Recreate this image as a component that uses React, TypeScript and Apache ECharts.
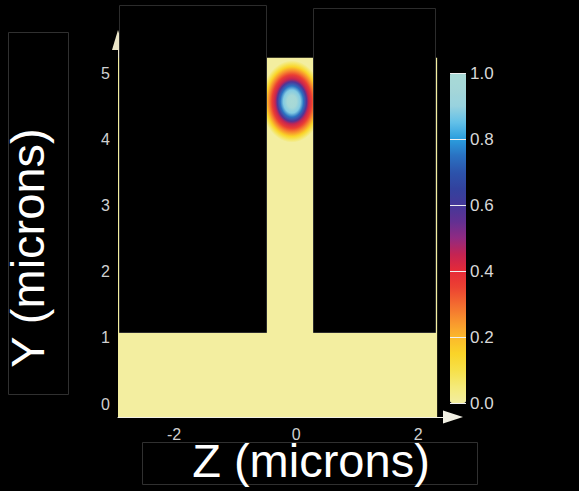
import React, { useEffect, useRef } from "react";
import * as echarts from "echarts";

// Axis extents (microns)
const zRange = [-2.92, 2.57];
const yRange = [-0.196, 5.5];

// Simulation domain filled with the field value outside the mode: [z0, z1, y0, y1, field]
const domainRects = [[-2.92, 2.31, -0.196, 5.23, 0]];

// Opaque cladding masks above the slab: [z0, z1, y0, y1]
const maskRects = [
  [-2.905, -0.5, 1.09, 6.03],
  [0.28, 2.28, 1.09, 5.98],
];

// Guided mode spot: centre (z, y) and outer radii (z, y), microns
const modeCenter = [-0.07, 4.57];
const modeRadii = [0.5, 0.62];

// Normalised field magnitude along the mode radius
const profileRadius = [0, 0.15, 0.28, 0.38, 0.48, 0.55, 0.65, 0.75, 0.85, 0.93, 1];
const profileValue = [1, 0.97, 0.88, 0.75, 0.58, 0.45, 0.36, 0.26, 0.15, 0.07, 0];

// Colour bar ticks
const barTicks = [0, 0.2, 0.4, 0.6, 0.8, 1.0];

// Colour map, evenly spaced from 0.0 to 1.0
const colorMap = [
  "#f3eea0", "#f4ea78", "#f6e048", "#fad428", "#fbb82c",
  "#f8922e", "#f36a30", "#ec4232", "#e62a38", "#c42452",
  "#902a82", "#623092", "#443898", "#32429e", "#2c54ac",
  "#2a72c2", "#2a9ede", "#62c0e8", "#98d2de", "#a4d6d8",
  "#a9dad6",
];

const FONT = "'Liberation Sans', Arial, Helvetica, sans-serif";

export default function App() {
  const ref = useRef<HTMLDivElement>(null);

  useEffect(() => {
    document.body.style.margin = "0";
    document.body.style.background = "#000";
    if (!ref.current) return;
    const chart = echarts.init(ref.current, undefined, { renderer: "svg" });

    const gradientStops = profileRadius.map((r, i) => ({
      offset: r,
      color: echarts.color.lerp(profileValue[i], colorMap) as string,
    }));

    chart.setOption({
      animation: false,
      backgroundColor: "#000",
      grid: [
        { left: 118, top: 40, width: 335, height: 377 },
        { left: 450, top: 73, width: 16, height: 330 },
      ],
      xAxis: [
        {
          type: "value",
          gridIndex: 0,
          min: zRange[0],
          max: zRange[1],
          minInterval: 2,
          maxInterval: 2,
          axisLine: {
            show: true,
            onZero: false,
            symbol: ["none", "triangle"],
            symbolSize: [13, 20],
            lineStyle: { color: "#f2f0e4", width: 1 },
          },
          axisTick: { show: false },
          splitLine: { show: false },
          axisLabel: {
            color: "#d0d0d0",
            fontSize: 16,
            lineHeight: 14,
            fontFamily: FONT,
            margin: 10,
            showMinLabel: false,
            showMaxLabel: false,
          },
        },
        { type: "value", gridIndex: 1, min: 0, max: 1, show: false },
      ],
      yAxis: [
        {
          type: "value",
          gridIndex: 0,
          min: yRange[0],
          max: yRange[1],
          minInterval: 1,
          maxInterval: 1,
          axisLine: {
            show: true,
            onZero: false,
            symbol: ["none", "triangle"],
            symbolSize: [12, 20],
            lineStyle: { color: "#ece6c8", width: 1 },
          },
          axisTick: { show: false },
          splitLine: { show: false },
          axisLabel: {
            color: "#d0d0d0",
            fontSize: 16,
            fontFamily: FONT,
            margin: 8,
            showMinLabel: false,
            showMaxLabel: false,
          },
        },
        {
          type: "value",
          gridIndex: 1,
          position: "right",
          min: barTicks[0],
          max: barTicks[barTicks.length - 1],
          interval: 0.2,
          z: 10,
          axisLine: { show: false },
          axisTick: { show: true, length: 4, lineStyle: { color: "#f0f0f0" } },
          splitLine: { show: true, lineStyle: { color: "#f0f0f0", width: 1 } },
          axisLabel: {
            color: "#d8d8d8",
            fontSize: 17,
            fontFamily: FONT,
            margin: 4,
            formatter: (v: number) => v.toFixed(1),
          },
        },
      ],
      visualMap: {
        type: "continuous",
        seriesIndex: [0],
        dimension: 4,
        min: 0,
        max: 1,
        orient: "vertical",
        left: 450,
        top: 73,
        itemWidth: 16,
        itemHeight: 330,
        padding: 0,
        calculable: false,
        hoverLink: false,
        inRange: { color: colorMap },
      },
      graphic: [
        {
          type: "rect",
          shape: { x: 8.5, y: 32.5, width: 60, height: 362 },
          style: { fill: "#000", stroke: "#303030", lineWidth: 1 },
          z: 20,
        },
        {
          type: "text",
          x: 27,
          y: 248,
          rotation: Math.PI / 2,
          style: {
            text: "Y (microns)",
            fill: "#fff",
            fontSize: 47,
            lineHeight: 36,
            fontFamily: FONT,
            align: "center",
            verticalAlign: "middle",
          },
          z: 21,
        },
        {
          type: "rect",
          shape: { x: 142.5, y: 442.5, width: 335, height: 42 },
          style: { fill: "#000", stroke: "#303030", lineWidth: 1 },
          z: 20,
        },
        {
          type: "text",
          x: 311,
          y: 460,
          style: {
            text: "Z (microns)",
            fill: "#fff",
            fontSize: 47,
            lineHeight: 34,
            fontFamily: FONT,
            align: "center",
            verticalAlign: "middle",
          },
          z: 21,
        },
      ],
      series: [
        {
          type: "custom",
          xAxisIndex: 0,
          yAxisIndex: 0,
          z: 2,
          clip: false,
          encode: { x: [0, 1], y: [2, 3] },
          data: domainRects,
          renderItem: (params: any, api: any) => {
            const p0 = api.coord([api.value(0), api.value(3)]);
            const p1 = api.coord([api.value(1), api.value(2)]);
            return {
              type: "rect",
              shape: { x: p0[0], y: p0[1], width: p1[0] - p0[0], height: p1[1] - p0[1] },
              style: { fill: api.visual("color") },
            };
          },
        },
        {
          type: "custom",
          xAxisIndex: 0,
          yAxisIndex: 0,
          z: 3,
          clip: false,
          encode: { x: 0, y: 1 },
          data: [[modeCenter[0], modeCenter[1], modeRadii[0], modeRadii[1]]],
          renderItem: (params: any, api: any) => {
            const c = api.coord([api.value(0), api.value(1)]);
            const s = api.size([api.value(2), api.value(3)]);
            return {
              type: "ellipse",
              shape: { cx: c[0], cy: c[1], rx: s[0], ry: s[1] },
              style: {
                fill: new echarts.graphic.RadialGradient(0.5, 0.5, 0.5, gradientStops),
              },
            };
          },
        },
        {
          type: "custom",
          xAxisIndex: 0,
          yAxisIndex: 0,
          z: 4,
          clip: false,
          encode: { x: [0, 1], y: [2, 3] },
          data: maskRects,
          renderItem: (params: any, api: any) => {
            const p0 = api.coord([api.value(0), api.value(3)]);
            const p1 = api.coord([api.value(1), api.value(2)]);
            return {
              type: "rect",
              shape: {
                x: Math.round(p0[0]) + 0.5,
                y: Math.round(p0[1]) + 0.5,
                width: Math.round(p1[0] - p0[0]),
                height: Math.round(p1[1] - p0[1]),
              },
              style: { fill: "#000", stroke: "#2c2c2c", lineWidth: 1 },
            };
          },
        },
      ],
    });

    return () => chart.dispose();
  }, []);

  return (
    <div
      ref={ref}
      style={{ position: "absolute", left: 0, top: 0, width: 579, height: 491, background: "#000" }}
    />
  );
}
